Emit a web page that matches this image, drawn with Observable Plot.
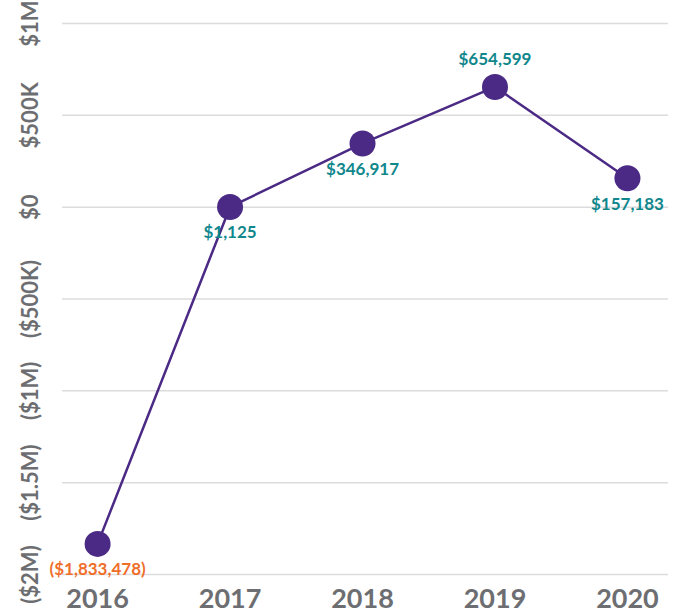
<!DOCTYPE html>
<html>
<head>
<meta charset="utf-8">
<script src="https://cdn.jsdelivr.net/npm/d3@7"></script>
<script src="https://cdn.jsdelivr.net/npm/@observablehq/plot@0.6"></script>
<style>
  body { margin: 0; background: #fff; }
  #chart svg { font-family: Lato, "Open Sans", sans-serif; }
</style>
</head>
<body>
<div id="chart"></div>
<script>
const years = [2016, 2017, 2018, 2019, 2020];
const values = [-1833478, 1125, 346917, 654599, 157183];
const valueLabels = ["($1,833,478)", "$1,125", "$346,917", "$654,599", "$157,183"];
const labelAbove = [false, false, false, true, false];
const yTicks = [-2000000, -1500000, -1000000, -500000, 0, 500000, 1000000];
const yTickLabels = ["($2M)", "($1.5M)", "($1M)", "($500K)", "$0", "$500K", "$1M"];

const data = years.map((year, i) => ({year, value: values[i], label: valueLabels[i], above: labelAbove[i]}));
const purple = "#4b2a85";
const teal = "#10878c";
const orange = "#ef6e2a";
const gray = "#6d6e71";

const chart = Plot.plot({
  width: 677,
  height: 615,
  marginLeft: 62,
  marginRight: 9,
  marginTop: 23,
  marginBottom: 41,
  x: {type: "linear", domain: [2015.735, 2020.31], label: null},
  y: {domain: [-2000000, 1000000], label: null},
  marks: [
    Plot.ruleY(yTicks, {stroke: "#dcdcdc", strokeWidth: 1.5}),
    Plot.axisY({
      ticks: yTicks,
      tickFormat: (d) => yTickLabels[yTicks.indexOf(d)],
      tickRotate: -90,
      tickSize: 0,
      tickPadding: 25,
      fontSize: 22,
      fontWeight: "bold",
      fill: gray,
      label: null
    }),
    Plot.axisX({
      ticks: years,
      tickFormat: (d) => String(d),
      tickSize: 0,
      tickPadding: 14,
      fontSize: 27,
      fontWeight: "bold",
      fill: gray,
      label: null
    }),
    Plot.line(data, {x: "year", y: "value", stroke: purple, strokeWidth: 2.5}),
    Plot.dot(data, {x: "year", y: "value", r: 13, fill: purple}),
    Plot.text(data.filter(d => !d.above), {
      x: "year", y: "value", text: "label", dy: 26,
      fill: d => d.value < 0 ? orange : teal,
      fontSize: 17, fontWeight: "bold"
    }),
    Plot.text(data.filter(d => d.above), {
      x: "year", y: "value", text: "label", dy: -27,
      fill: teal, fontSize: 17, fontWeight: "bold"
    })
  ]
});
document.getElementById("chart").appendChild(chart);
</script>
</body>
</html>
